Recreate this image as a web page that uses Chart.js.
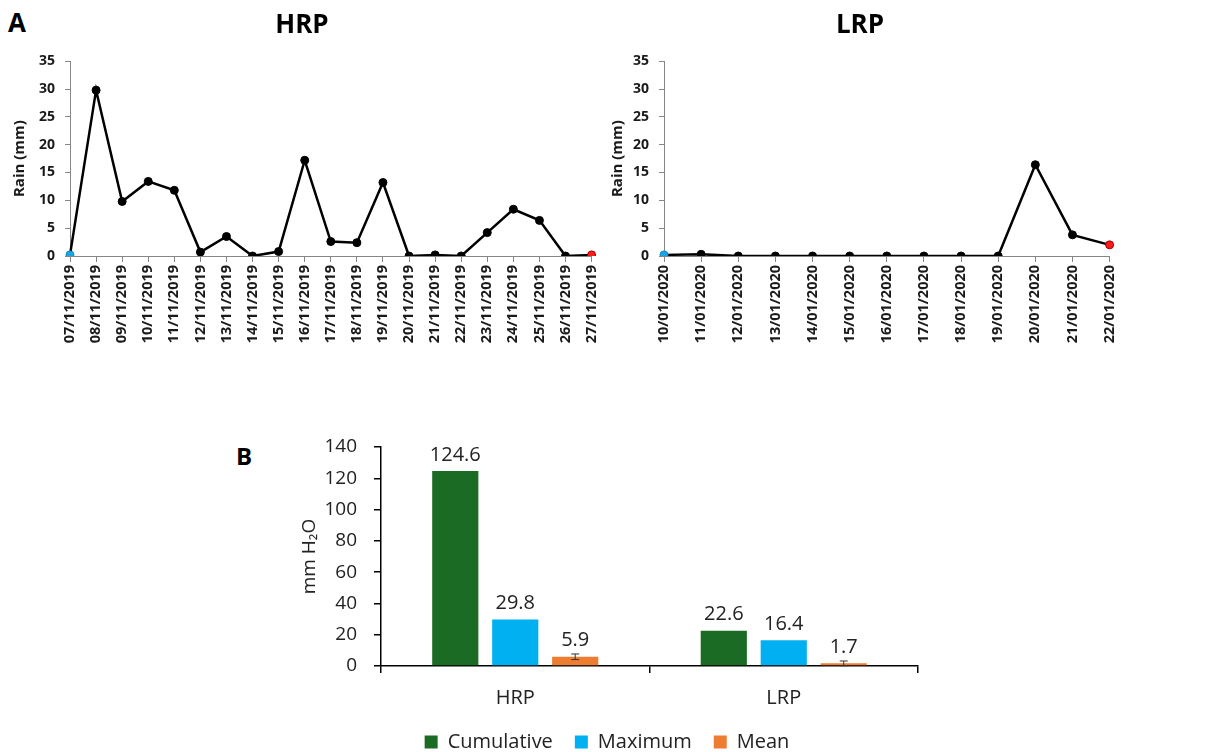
<!DOCTYPE html>
<html>
<head>
<meta charset="utf-8">
<title>Rain</title>
<script src="https://cdn.jsdelivr.net/npm/chart.js@4.4.1/dist/chart.umd.min.js"></script>
<style>
    body { margin: 0; width: 1206px; height: 752px; background: #fff; position: relative; overflow: hidden; font-family: 'Open Sans', sans-serif; }
    .box { position: absolute; }
    .panel { position: absolute; font-weight: bold; line-height: 1.4; color: #000; }
</style>
</head>
<body>
<div class="panel" style="left:8px;top:4px;font-size:26px">A</div>
<div class="panel" style="left:236px;top:439px;font-size:24px">B</div>
<div class="box" style="left:0;top:0"><canvas id="hrp-chart" width="612" height="360"></canvas></div>
<div class="box" style="left:600px;top:0"><canvas id="lrp-chart" width="530" height="360"></canvas></div>
<div class="box" style="left:240px;top:400px"><canvas id="summary-chart" width="718" height="362"></canvas></div>
<script>
const hrpDates = ['07/11/2019', '08/11/2019', '09/11/2019', '10/11/2019', '11/11/2019', '12/11/2019', '13/11/2019',
    '14/11/2019', '15/11/2019', '16/11/2019', '17/11/2019', '18/11/2019', '19/11/2019', '20/11/2019',
    '21/11/2019', '22/11/2019', '23/11/2019', '24/11/2019', '25/11/2019', '26/11/2019', '27/11/2019'];
const hrpRain = [0.2, 29.8, 9.8, 13.4, 11.8, 0.7, 3.5, 0, 0.8, 17.2, 2.6, 2.4, 13.2, 0, 0.2, 0, 4.2, 8.4, 6.4, 0, 0.2];

const lrpDates = ['10/01/2020', '11/01/2020', '12/01/2020', '13/01/2020', '14/01/2020', '15/01/2020', '16/01/2020',
    '17/01/2020', '18/01/2020', '19/01/2020', '20/01/2020', '21/01/2020', '22/01/2020'];
const lrpRain = [0.2, 0.3, 0, 0, 0, 0, 0, 0, 0, 0, 16.4, 3.8, 2.0];

const summaryGroups = ['HRP', 'LRP'];
const seriesNames = ['Cumulative', 'Maximum', 'Mean'];
const cumulativeRain = [124.6, 22.6];
const maximumRain = [29.8, 16.4];
const meanRain = [5.9, 1.7];
const meanError = [1.8, 1.5];

document.addEventListener('DOMContentLoaded', function() {
    const FONT = "'Open Sans', sans-serif";
    const axisGray = '#868686';

    // daily rain line, first day blue and last day red
    function makeRainChart(canvasId, title, labels, values, padLeft, yWidth) {
        const last = values.length - 1;
        return new Chart(document.getElementById(canvasId), {
            type: 'line',
            data: {
                labels: labels,
                datasets: [{
                    data: values,
                    borderColor: '#000',
                    borderWidth: 2.5,
                    tension: 0,
                    pointRadius: 4,
                    pointBorderWidth: 1,
                    pointBackgroundColor: c => c.dataIndex === 0 ? '#1aa6e4' : (c.dataIndex === last ? '#ff1a1a' : '#000'),
                    pointBorderColor: c => c.dataIndex === 0 ? '#1b86c0' : (c.dataIndex === last ? '#a00000' : '#000')
                }]
            },
            options: {
                responsive: false,
                animation: false,
                layout: { padding: { left: padLeft, right: 20, top: 0, bottom: 0 } },
                plugins: {
                    legend: { display: false },
                    tooltip: { enabled: false },
                    title: {
                        display: true,
                        text: title,
                        color: '#000',
                        font: { family: FONT, size: 26, weight: 'bold' },
                        padding: { top: 10, bottom: 20 }
                    }
                },
                scales: {
                    x: {
                        offset: false,
                        grid: { drawOnChartArea: false, tickLength: 6, color: axisGray },
                        border: { color: axisGray, width: 1 },
                        ticks: {
                            autoSkip: false, minRotation: 90, maxRotation: 90, padding: 3,
                            color: '#1a1a1a', font: { family: FONT, size: 14.5, weight: 'bold' }
                        },
                        afterFit: s => { s.height = 104; }
                    },
                    y: {
                        min: 0,
                        max: 35,
                        grid: { drawOnChartArea: false, tickLength: 5, color: axisGray },
                        border: { color: axisGray, width: 1 },
                        ticks: { stepSize: 5, padding: 10, color: '#1a1a1a', font: { family: FONT, size: 14, weight: 'bold' } },
                        title: {
                            display: true,
                            text: 'Rain (mm)',
                            color: '#1a1a1a',
                            font: { family: FONT, size: 15, weight: 'bold', lineHeight: 1 },
                            padding: { top: 0, bottom: 0 }
                        },
                        afterFit: s => { s.width = yWidth; }
                    }
                }
            }
        });
    }

    makeRainChart('hrp-chart', 'HRP', hrpDates, hrpRain, 12, 58);
    makeRainChart('lrp-chart', 'LRP', lrpDates, lrpRain, 10, 54);

    // numbers above each bar
    const valueLabels = {
        id: 'valueLabels',
        afterDatasetsDraw(chart) {
            const ctx = chart.ctx;
            ctx.save();
            ctx.font = '20px ' + FONT;
            ctx.fillStyle = '#222';
            ctx.textAlign = 'center';
            ctx.textBaseline = 'middle';
            chart.data.datasets.forEach((ds, i) => {
                chart.getDatasetMeta(i).data.forEach((bar, j) => {
                    ctx.fillText(ds.data[j].toFixed(1), bar.x, bar.y - 16);
                });
            });
            ctx.restore();
        }
    };

    // error whiskers on the mean bars
    const errorBars = {
        id: 'errorBars',
        afterDatasetsDraw(chart) {
            const ctx = chart.ctx;
            const yScale = chart.scales.y;
            const meta = chart.getDatasetMeta(2);
            ctx.save();
            ctx.strokeStyle = '#333';
            ctx.lineWidth = 1;
            meta.data.forEach((bar, j) => {
                const top = yScale.getPixelForValue(meanRain[j] + meanError[j]);
                const bottom = yScale.getPixelForValue(Math.max(0, meanRain[j] - meanError[j]));
                ctx.beginPath();
                ctx.moveTo(bar.x, top);
                ctx.lineTo(bar.x, bottom);
                ctx.moveTo(bar.x - 4, top);
                ctx.lineTo(bar.x + 4, top);
                ctx.moveTo(bar.x - 4, bottom);
                ctx.lineTo(bar.x + 4, bottom);
                ctx.stroke();
            });
            ctx.restore();
        }
    };

    new Chart(document.getElementById('summary-chart'), {
        type: 'bar',
        data: {
            labels: summaryGroups,
            datasets: [
                { label: seriesNames[0], data: cumulativeRain, backgroundColor: '#1c6b25' },
                { label: seriesNames[1], data: maximumRain, backgroundColor: '#00b0f0' },
                { label: seriesNames[2], data: meanRain, backgroundColor: '#ed7d31' }
            ]
        },
        options: {
            responsive: false,
            animation: false,
            categoryPercentage: 0.67,
            barPercentage: 0.77,
            layout: { padding: { left: 56, right: 40, top: 47, bottom: 0 } },
            plugins: {
                tooltip: { enabled: false },
                legend: {
                    position: 'bottom',
                    labels: { boxWidth: 13, boxHeight: 13, padding: 22, color: '#222', font: { family: FONT, size: 20 } }
                }
            },
            scales: {
                x: {
                    grid: { offset: true, drawOnChartArea: false, tickLength: 7, color: '#000', lineWidth: 1.5 },
                    border: { color: '#000', width: 1.5 },
                    ticks: { padding: 13, color: '#222', font: { family: FONT, size: 20 } },
                    afterFit: s => { s.height = 44; }
                },
                y: {
                    min: 0,
                    max: 140,
                    grid: { drawOnChartArea: false, tickLength: 7, color: '#000', lineWidth: 1.5 },
                    border: { color: '#000', width: 1.5 },
                    ticks: { stepSize: 20, padding: 17, color: '#222', font: { family: FONT, size: 19 } },
                    title: {
                        display: true,
                        text: 'mm H₂O',
                        color: '#222',
                        font: { family: FONT, size: 19, lineHeight: 1 },
                        padding: { top: 4, bottom: 0 }
                    },
                    afterFit: s => { s.width = 85; }
                }
            }
        },
        plugins: [valueLabels, errorBars]
    });
});
</script>
</body>
</html>
